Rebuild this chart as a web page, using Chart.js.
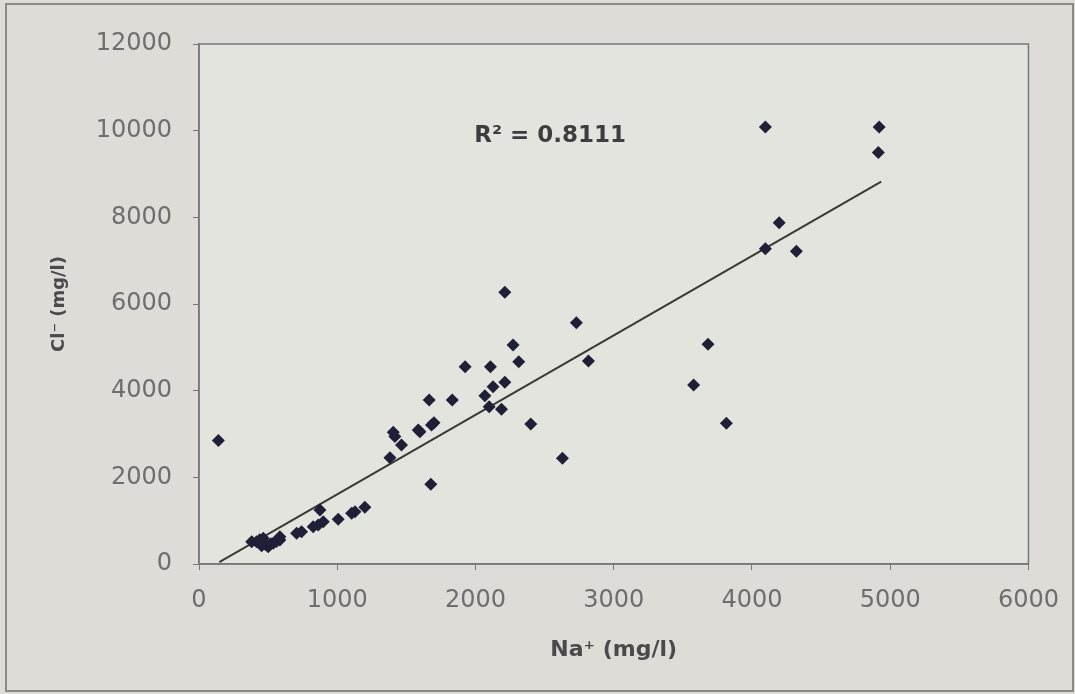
<!DOCTYPE html>
<html lang="en">
<head>
  <meta charset="UTF-8">
  <title>Cl- vs Na+</title>
  <script src="https://cdn.jsdelivr.net/npm/chart.js"></script>
  <style>
    body { margin: 0; background: #dddcd6; }
    canvas { display: block; }
  </style>
</head>
<body>
  <canvas id="grafico" width="1075" height="694"></canvas>

<script>
  // Na+ (mg/l) and Cl- (mg/l) for each sample
  const naValues = [
    140, 381, 417, 440, 465, 453, 480, 501, 520, 537, 560, 585, 585,
    706, 742, 826, 862, 899, 875, 1007, 1104, 1128, 1200,
    1381, 1405, 1417, 1465, 1586, 1598, 1682, 1700, 1677, 1665, 1832,
    1925, 2108, 2068, 2127, 2099, 2188, 2212, 2212, 2272, 2313, 2400,
    2629, 2730, 2817, 3578, 3682, 3815, 4097, 4097, 4197, 4321, 4920, 4914
  ];
  const clValues = [
    2850, 515, 515, 560, 592, 420, 450, 400, 470, 477, 520, 553, 630,
    708, 745, 862, 900, 977, 1246, 1031, 1169, 1208, 1308,
    2450, 3040, 2940, 2746, 3092, 3054, 3208, 3260, 1839, 3785, 3785,
    4554, 4554, 3885, 4092, 3631, 3570, 4192, 6270, 5054, 4670, 3231,
    2439, 5570, 4685, 4131, 5069, 3246, 10085, 7275, 7877, 7215, 10085, 9495
  ];

  // linear trend line end points
  const trendNa = [147, 4935];
  const trendCl = [41, 8823];
  const rSquared = '0.8111';

  const xTicks = [0, 1000, 2000, 3000, 4000, 5000, 6000];
  const yTicks = [0, 2000, 4000, 6000, 8000, 10000, 12000];

  const pontos = naValues.map((na, i) => ({ x: na, y: clValues[i] }));
  const tendencia = trendNa.map((na, i) => ({ x: na, y: trendCl[i] }));

  // background, frame, plot border and R² label
  const moldura = {
    id: 'moldura',
    beforeDraw(chart) {
      const { ctx, chartArea: a } = chart;
      ctx.save();
      ctx.fillStyle = '#dddcd6';
      ctx.fillRect(0, 0, chart.width, chart.height);
      ctx.fillStyle = '#e4e4df';
      ctx.fillRect(a.left, a.top, a.right - a.left, a.bottom - a.top);
      ctx.strokeStyle = '#8a8a86';
      ctx.lineWidth = 2;
      ctx.strokeRect(6, 4, 1067, 687);
      ctx.restore();
    },
    afterDraw(chart) {
      const { ctx, chartArea: a, scales } = chart;
      ctx.save();
      ctx.strokeStyle = '#777';
      ctx.lineWidth = 1.5;
      ctx.strokeRect(a.left, a.top, a.right - a.left, a.bottom - a.top);
      ctx.fillStyle = '#3d3d3d';
      ctx.font = 'bold 23px "DejaVu Sans"';
      ctx.textAlign = 'center';
      ctx.textBaseline = 'middle';
      ctx.fillText('R² = ' + rSquared, scales.x.getPixelForValue(2540), scales.y.getPixelForValue(9880));
      ctx.restore();
    }
  };

  const semSeparador = v => String(v);

  new Chart(document.getElementById('grafico'), {
    type: 'scatter',
    data: {
      datasets: [{
        data: pontos,
        pointStyle: 'rectRot',
        pointRadius: 6.5,
        pointHoverRadius: 6.5,
        backgroundColor: '#1f1f38',
        borderColor: '#1f1f38',
        borderWidth: 0
      }, {
        type: 'line',
        data: tendencia,
        borderColor: '#3a3a34',
        borderWidth: 2,
        pointRadius: 0,
        fill: false
      }]
    },
    options: {
      responsive: false,
      animation: false,
      layout: { padding: { top: 44, right: 41, left: 0, bottom: 0 } },
      plugins: { legend: { display: false }, tooltip: { enabled: false } },
      scales: {
        x: {
          type: 'linear',
          min: 0,
          max: 6000,
          afterBuildTicks: s => { s.ticks = xTicks.map(v => ({ value: v })); },
          afterFit: s => { s.height = 130; },
          grid: { drawOnChartArea: false, drawTicks: true, tickLength: 6, color: '#777' },
          border: { color: '#777', width: 1.5 },
          ticks: { color: '#6e6e6e', font: { family: 'DejaVu Sans', size: 24 }, padding: 16, maxRotation: 0, callback: semSeparador },
          title: {
            display: true,
            text: 'Na⁺ (mg/l)',
            color: '#4a4a4a',
            font: { family: 'DejaVu Sans', size: 22, weight: 'bold' },
            padding: { top: 0, bottom: 31 }
          }
        },
        y: {
          type: 'linear',
          min: 0,
          max: 12000,
          afterBuildTicks: s => { s.ticks = yTicks.map(v => ({ value: v })); },
          afterFit: s => { s.width = 199; },
          grid: { drawOnChartArea: false, drawTicks: true, tickLength: 6, color: '#777' },
          border: { color: '#777', width: 1.5 },
          ticks: { color: '#6e6e6e', font: { family: 'DejaVu Sans', size: 24 }, padding: 21, callback: semSeparador },
          title: {
            display: true,
            text: 'Cl⁻ (mg/l)',
            color: '#4a4a4a',
            font: { family: 'DejaVu Sans', size: 18, weight: 'bold' },
            padding: { top: 49, bottom: 0 }
          }
        }
      }
    },
    plugins: [moldura]
  });
</script>
</body>
</html>
